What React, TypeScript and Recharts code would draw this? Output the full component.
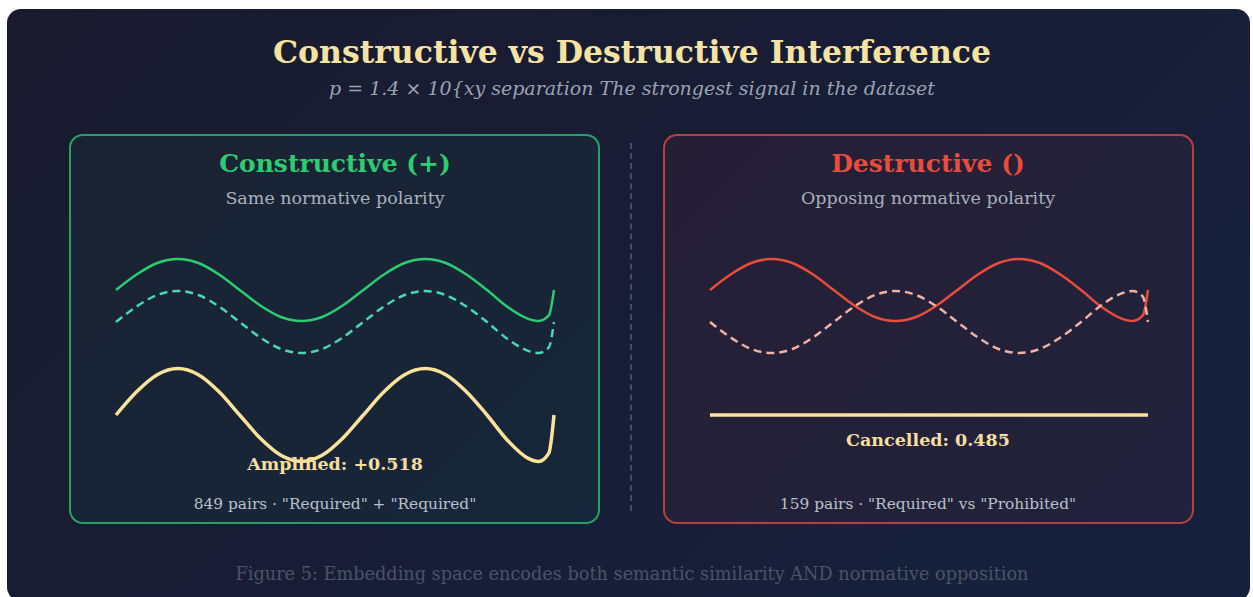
import React from 'react';
import { LineChart, Line, XAxis, YAxis } from 'recharts';

// phase steps (1/12 of a period); the tail has the sharp closing hook seen in the figure
const phase = [0, 1, 2, 3, 4, 5, 6, 7, 8, 9, 10, 11, 12, 13, 14, 15, 16, 17, 18, 19, 20, 20.5, 21, 21.25];
const waveA = [0, 0.5, 0.87, 1, 0.87, 0.5, 0, -0.5, -0.87, -1, -0.87, -0.5, 0, 0.5, 0.87, 1, 0.87, 0.5, 0, -0.55, -0.93, -1, -0.82, 0];
const waveSame = [0, 0.5, 0.87, 1, 0.87, 0.5, 0, -0.5, -0.87, -1, -0.87, -0.5, 0, 0.5, 0.87, 1, 0.87, 0.5, 0, -0.55, -0.93, -1, -0.82, 0];
const waveAmplified = [0, 0.75, 1.3, 1.5, 1.3, 0.75, 0, -0.75, -1.3, -1.5, -1.3, -0.75, 0, 0.75, 1.3, 1.5, 1.3, 0.75, 0, -0.82, -1.4, -1.5, -1.23, 0];
const waveOpposed = [0, -0.5, -0.87, -1, -0.87, -0.5, 0, 0.5, 0.87, 1, 0.87, 0.5, 0, -0.5, -0.87, -1, -0.87, -0.5, 0, 0.55, 0.93, 1, 0.82, 0];
const waveCancelled = [0, 0, 0, 0, 0, 0, 0, 0, 0, 0, 0, 0, 0, 0, 0, 0, 0, 0, 0, 0, 0, 0, 0, 0];

const constructiveData = phase.map((x, i) => ({ x, a: waveA[i], b: waveSame[i], sum: waveAmplified[i] }));
const destructiveData = phase.map((x, i) => ({ x, a: waveA[i], b: waveOpposed[i], sum: waveCancelled[i] }));

const FONT = '"DejaVu Serif", serif';

// chart geometry: plot area top/height in px, px per wave unit
const CH_TOP = 240;
const CH_H = 240;
const M = 5;
const UNIT = 31;
const band = (mid: number): [number, number] => {
  const hi = (mid - (CH_TOP + M)) / UNIT;
  return [hi - (CH_H - 2 * M) / UNIT, hi];
};

const WaveChart = ({ data, left, colors }: { data: any[]; left: number; colors: [string, string, string] }) => (
  <div style={{ position: 'absolute', left, top: CH_TOP }}>
    <LineChart width={448} height={CH_H} data={data} margin={{ top: M, right: M, bottom: M, left: M }}>
      <XAxis dataKey="x" type="number" domain={[0, 21.25]} hide />
      <YAxis yAxisId="a" type="number" domain={band(290)} allowDataOverflow hide />
      <YAxis yAxisId="b" type="number" domain={band(322)} allowDataOverflow hide />
      <YAxis yAxisId="sum" type="number" domain={band(415)} allowDataOverflow hide />
      <Line yAxisId="a" dataKey="a" type="monotone" stroke={colors[0]} strokeWidth={2.5} dot={false} isAnimationActive={false} />
      <Line yAxisId="b" dataKey="b" type="monotone" stroke={colors[1]} strokeWidth={2.5} strokeDasharray="8 5" dot={false} isAnimationActive={false} />
      <Line yAxisId="sum" dataKey="sum" type="monotone" stroke={colors[2]} strokeWidth={3.5} dot={false} isAnimationActive={false} />
    </LineChart>
  </div>
);

const Txt = ({ x, y, w, children, style }: { x: number; y: number; w: number; children: React.ReactNode; style: React.CSSProperties }) => (
  <div style={{ position: 'absolute', left: x - w / 2, top: y - 20, width: w, height: 40, lineHeight: '40px', textAlign: 'center', whiteSpace: 'nowrap', fontFamily: FONT, ...style }}>
    {children}
  </div>
);

const Panel = ({ left, border, fill }: { left: number; border: string; fill: string }) => (
  <div style={{ position: 'absolute', left, top: 134, width: 531, height: 390, boxSizing: 'border-box', border: `2px solid ${border}`, borderRadius: 14, background: fill }} />
);

export default function App() {
  return (
    <div style={{ position: 'fixed', left: 0, top: 0, width: 1253, height: 597, overflow: 'hidden', background: '#fff' }}>
      <div style={{ position: 'absolute', left: 7, top: 9, width: 1243, height: 592, borderRadius: 14, background: 'linear-gradient(135deg, #1a1a2e 0%, #16213e 100%)' }} />
      <Txt x={632} y={52} w={1000} style={{ fontSize: 31.5, fontWeight: 'bold', color: '#f7e3a1' }}>
        Constructive vs Destructive Interference
      </Txt>
      <Txt x={632} y={88} w={1000} style={{ fontSize: 19, fontStyle: 'italic', color: '#9aa3b3' }}>
        p = 1.4 × 10{'{'}xy separation The strongest signal in the dataset
      </Txt>

      <Panel left={69} border="rgba(46,204,113,0.75)" fill="rgba(46,204,113,0.05)" />
      <Panel left={663} border="rgba(231,76,60,0.75)" fill="rgba(231,76,60,0.06)" />
      <div style={{ position: 'absolute', left: 630, top: 143, height: 368, borderLeft: '2px dashed #454b63' }} />

      <Txt x={335} y={164} w={500} style={{ fontSize: 25, fontWeight: 'bold', color: '#2ecc71' }}>Constructive (+)</Txt>
      <Txt x={335} y={198} w={500} style={{ fontSize: 17.5, color: '#a9b1bd' }}>Same normative polarity</Txt>
      <Txt x={928} y={164} w={500} style={{ fontSize: 25, fontWeight: 'bold', color: '#e74c3c' }}>Destructive ()</Txt>
      <Txt x={928} y={198} w={500} style={{ fontSize: 17.5, color: '#a9b1bd' }}>Opposing normative polarity</Txt>

      <WaveChart data={constructiveData} left={111} colors={['#2ecc71', '#48d8b4', '#fbe39a']} />
      <WaveChart data={destructiveData} left={705} colors={['#e74c3c', '#f2b1a4', '#fbe39a']} />

      <Txt x={335} y={464} w={500} style={{ fontSize: 17.5, fontWeight: 'bold', color: '#f5dfa0' }}>Amplified: +0.518</Txt>
      <Txt x={928} y={440} w={500} style={{ fontSize: 17.5, fontWeight: 'bold', color: '#f5dfa0' }}>Cancelled: 0.485</Txt>
      <Txt x={335} y={504} w={500} style={{ fontSize: 15.4, color: '#b9c1cc' }}>849 pairs · "Required" + "Required"</Txt>
      <Txt x={928} y={504} w={500} style={{ fontSize: 15.4, color: '#b9c1cc' }}>159 pairs · "Required" vs "Prohibited"</Txt>

      <Txt x={632} y={574} w={1100} style={{ fontSize: 17.7, color: '#4a5369' }}>
        Figure 5: Embedding space encodes both semantic similarity AND normative opposition
      </Txt>
    </div>
  );
}
